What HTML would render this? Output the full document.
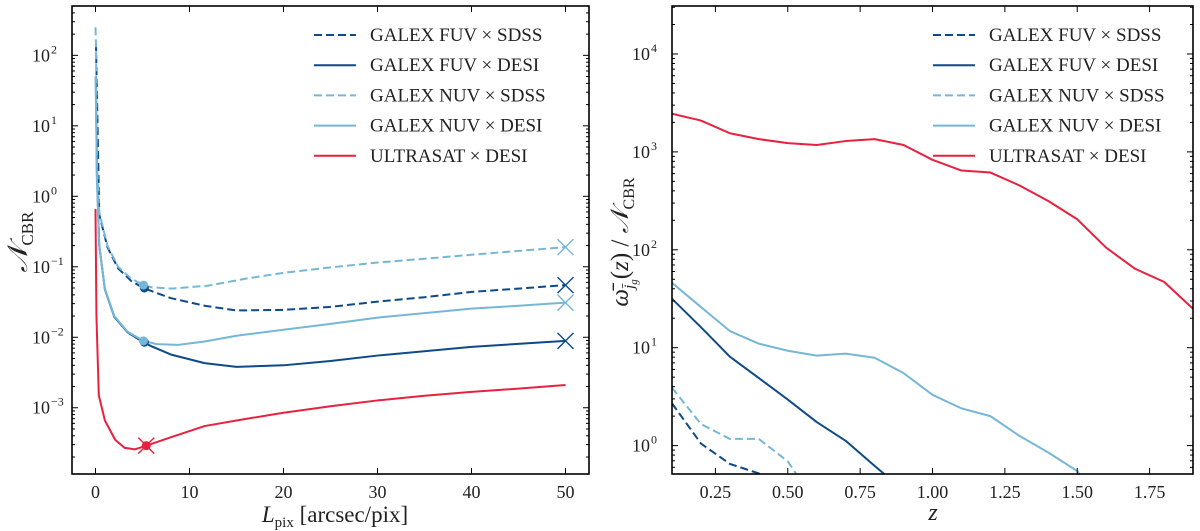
<!DOCTYPE html>
<html><head><meta charset="utf-8"><style>
body{margin:0;background:#fff;}
svg{display:block;font-family:"Liberation Serif","DejaVu Serif",serif;}
</style></head><body>
<svg id="fig" width="1200" height="531" viewBox="0 0 1200 531" xmlns="http://www.w3.org/2000/svg">
<g id="left"></g>
<g id="right"></g>
</svg>
<script>
// ---- Left panel data (L_pix vs N_CBR) ----
const leftFuvSdssX = [0.05,0.4,1.27,2.4,3.8,5.1,6,8,11.6,15,20,25,30,35,40,45,50];
const leftFuvSdssY = [150,0.55,0.19,0.095,0.063,0.05,0.045,0.036,0.028,0.024,0.0245,0.027,0.032,0.037,0.044,0.049,0.055];
const leftFuvDesiX = [0.05,0.15,0.4,1,2,3.4,5.1,6,8,11.6,15,20,25,30,40,50];
const leftFuvDesiY = [40,2,0.2,0.048,0.0195,0.0118,0.0085,0.0074,0.0057,0.0043,0.0038,0.004,0.0046,0.0055,0.0073,0.0089];
const leftNuvSdssX = [0,0.05,0.15,0.4,1.27,2.4,3.8,5.1,6,8.1,12,16,20,25,30,35,40,45,50];
const leftNuvSdssY = [250,150,3,0.59,0.20,0.10,0.068,0.055,0.051,0.049,0.054,0.068,0.082,0.098,0.115,0.13,0.148,0.168,0.19];
const leftNuvDesiX = [0,0.05,0.15,0.4,1,2,3.4,5.1,6.5,8.8,11.6,15,20,25,30,35,40,45,50];
const leftNuvDesiY = [50,20,1.7,0.2,0.049,0.020,0.012,0.0089,0.008,0.0078,0.0087,0.0105,0.0128,0.0155,0.019,0.022,0.0255,0.028,0.031];
const leftUltraX = [0,0.1,0.35,1.0,2.1,3.1,4.2,5.4,8,11.6,15,20,25,30,35,40,45,50];
const leftUltraY = [0.66,0.02,0.0015,0.00066,0.00035,0.00027,0.000257,0.00029,0.00038,0.00055,0.00066,0.00085,0.00105,0.00127,0.00148,0.00168,0.00187,0.0021];
const leftXTicks = [0,10,20,30,40,50];
const leftYTicks = [-3,-2,-1,0,1,2];

// ---- Right panel data (z vs omega/N) ----
const zVals = [0.1,0.2,0.3,0.4,0.5,0.6,0.7,0.8,0.9,1.0,1.1,1.2,1.3,1.4,1.5,1.6,1.7,1.8,1.9];
const rUltra = [2450,2090,1550,1350,1230,1175,1290,1350,1175,830,645,615,455,315,205,105,64,47,25];
const rNuvDesi = [46,26,14.8,11,9.3,8.3,8.7,7.9,5.5,3.3,2.4,2.0,1.26,0.85,0.55,0.2];
const rFuvDesi = [31.6,16.2,8.1,4.9,2.95,1.74,1.12,0.62,0.35];
const rNuvSdss = [3.9,1.66,1.17,1.17,0.69,0.25];
const rFuvSdss = [2.7,1.05,0.65,0.52,0.35];
const rightXTicks = [0.25,0.5,0.75,1.0,1.25,1.5,1.75];
const rightXTickLabels = ["0.25","0.50","0.75","1.00","1.25","1.50","1.75"];
const rightYTicks = [0,1,2,3,4];

const DARK = "#0d4a8a", LIGHT = "#76b7d8", RED = "#e8213f";
const NS = "http://www.w3.org/2000/svg";
function mk(tag, attrs, parent){const e=document.createElementNS(NS,tag);for(const k in attrs)e.setAttribute(k,attrs[k]);if(parent)parent.appendChild(e);return e;}

function makeAxes(box, xlim, ylog){
  const sx = v => box.x0 + (v - xlim[0])/(xlim[1]-xlim[0])*(box.x1-box.x0);
  const sy = v => box.y1 - (Math.log10(v) - ylog[0])/(ylog[1]-ylog[0])*(box.y1-box.y0);
  const syl = l => box.y1 - (l - ylog[0])/(ylog[1]-ylog[0])*(box.y1-box.y0);
  return {sx, sy, syl};
}

function drawPanel(gid, box, xlim, ylog, xTicks, xLabels, yTicks, prefix){
  const g = document.getElementById(gid);
  const ax = makeAxes(box, xlim, ylog);
  const defs = mk('defs', {}, g);
  const cp = mk('clipPath', {id: prefix+'clip'}, defs);
  mk('rect', {x: box.x0, y: box.y0, width: box.x1-box.x0, height: box.y1-box.y0}, cp);
  const plot = mk('g', {'clip-path': 'url(#'+prefix+'clip)'}, g);
  
  
  const tg = mk('g', {stroke: '#000', 'stroke-width': 1}, g);
  
  
  xTicks.forEach((t, i) => {
    const x = ax.sx(t);
    mk('line', {x1: x, x2: x, y1: box.y1, y2: box.y1-6}, tg);
    mk('line', {x1: x, x2: x, y1: box.y0, y2: box.y0+6}, tg);
    const tx = mk('text', {x: x, y: box.y1+24, 'text-anchor': 'middle', 'font-size': 18, fill: '#222', stroke: 'none'}, g);
    tx.textContent = xLabels[i];
    
    
  });
  for (let d = Math.floor(ylog[0]); d <= Math.ceil(ylog[1]); d++) {
    for (let m = 1; m <= 9; m++) {
      const l = d + Math.log10(m);
      if (l < ylog[0] || l > ylog[1]) continue;
      const y = ax.syl(l);
      const len = m === 1 ? 6 : 3;
      mk('line', {x1: box.x0, x2: box.x0+len, y1: y, y2: y}, tg);
      mk('line', {x1: box.x1, x2: box.x1-len, y1: y, y2: y}, tg);
    }
  }
  yTicks.forEach(t => {
    const y = ax.syl(t);
    const tx = mk('text', {x: box.x0-22, y: y+6, 'text-anchor': 'end', 'font-size': 18, fill: '#222'}, g);
    tx.textContent = '10';
    
    
    const sup = mk('text', {x: box.x0-21, y: y-2, 'text-anchor': 'start', 'font-size': 12, fill: '#222'}, g);
    sup.textContent = t < 0 ? '\u2212' + (-t) : String(t);
    
    
  });
  const frame = mk('rect', {x: box.x0, y: box.y0, width: box.x1-box.x0, height: box.y1-box.y0, fill: 'none', stroke: '#000', 'stroke-width': 1.6}, g);
  
  
  return {ax, plot, g};
}

function line(plot, ax, xs, ys, color, dashed, name){
  const d = xs.map((x, i) => (i ? 'L' : 'M') + ax.sx(x).toFixed(2) + ' ' + ax.sy(ys[i]).toFixed(2)).join(' ');
  const p = mk('path', {d: d, fill: 'none', stroke: color, 'stroke-width': 2, 'stroke-dasharray': dashed ? '8,4' : 'none', 'stroke-linejoin': 'round'}, plot);
  
  
}

function legend(g, x, y0, items){
  const lg = mk('g', {}, g);
  
  
  items.forEach((it, i) => {
    const y = y0 + i*30.2;
    const e = mk('g', {}, lg);
    
    
    mk('line', {x1: x, x2: x+42, y1: y, y2: y, stroke: it[1], 'stroke-width': 2, 'stroke-dasharray': it[2] ? '8,4' : 'none'}, e);
    const t = mk('text', {x: x+56, y: y+6, 'font-size': 19, fill: '#222'}, e);
    t.textContent = it[0];
  });
}
const legItems = [["GALEX FUV \u00d7 SDSS", DARK, true],["GALEX FUV \u00d7 DESI", DARK, false],["GALEX NUV \u00d7 SDSS", LIGHT, true],["GALEX NUV \u00d7 DESI", LIGHT, false],["ULTRASAT \u00d7 DESI", RED, false]];

// LEFT
const L = drawPanel('left', {x0: 72, x1: 589, y0: 6, y1: 474}, [-2.5, 52.5], [-3.94, 2.70], leftXTicks, leftXTicks.map(String), leftYTicks, 'left-');
line(L.plot, L.ax, leftFuvSdssX, leftFuvSdssY, DARK, true, 'line-fuv-sdss');
line(L.plot, L.ax, leftFuvDesiX, leftFuvDesiY, DARK, false, 'line-fuv-desi');
line(L.plot, L.ax, leftNuvSdssX, leftNuvSdssY, LIGHT, true, 'line-nuv-sdss');
line(L.plot, L.ax, leftNuvDesiX, leftNuvDesiY, LIGHT, false, 'line-nuv-desi');
line(L.plot, L.ax, leftUltraX, leftUltraY, RED, false, 'line-ultrasat-desi');
function dot(xv, yv, c, name){const c1 = mk('circle', {cx: L.ax.sx(xv), cy: L.ax.sy(yv), r: 4.5, fill: c}, L.plot);  }
function cross(xv, yv, c, name, plus){const x = L.ax.sx(xv), y = L.ax.sy(yv), s = 8; let d = `M${x-s} ${y-s}L${x+s} ${y+s}M${x-s} ${y+s}L${x+s} ${y-s}`; const p = mk('path', {d: d, stroke: c, 'stroke-width': 1.4, fill: 'none'}, L.g);  }
dot(5.2, leftFuvSdssY[5], DARK, 'marker-fuv-sdss-min');
dot(5.1, leftNuvSdssY[7], LIGHT, 'marker-nuv-sdss-min');
dot(5.2, leftFuvDesiY[6], DARK, 'marker-fuv-desi-min');
dot(5.1, leftNuvDesiY[7], LIGHT, 'marker-nuv-desi-min');
cross(50, leftNuvSdssY[leftNuvSdssY.length-1], LIGHT, 'cross-nuv-sdss');
cross(50, leftFuvSdssY[leftFuvSdssY.length-1], DARK, 'cross-fuv-sdss');
cross(50, leftNuvDesiY[leftNuvDesiY.length-1], LIGHT, 'cross-nuv-desi');
cross(50, leftFuvDesiY[leftFuvDesiY.length-1], DARK, 'cross-fuv-desi');
cross(5.4, leftUltraY[7], RED, 'cross-ultrasat');
dot(5.4, leftUltraY[7], RED, 'marker-ultrasat-min');
legend(L.g, 314, 35, legItems);
const ylab = mk('text', {x: 0, y: 0, 'font-size': 28, 'font-style': 'italic', fill: '#222', transform: 'translate(27,242) rotate(-90)', 'text-anchor': 'middle'}, L.g);
ylab.innerHTML = '\ud835\udca9<tspan font-size="17" font-style="normal" dy="6">CBR</tspan>';


const xlab = mk('text', {x: 335, y: 522, 'font-size': 23, fill: '#222', 'text-anchor': 'middle'}, L.g);
xlab.innerHTML = '<tspan font-style="italic">L</tspan><tspan font-size="15" dy="5">pix</tspan><tspan dy="-5"> [arcsec/pix]</tspan>';



// RIGHT
const R = drawPanel('right', {x0: 672, x1: 1193, y0: 6, y1: 474}, [0.1, 1.9], [-0.29, 4.49], rightXTicks, rightXTickLabels, rightYTicks, 'right-');
line(R.plot, R.ax, zVals.slice(0, rFuvSdss.length), rFuvSdss, DARK, true, 'line-fuv-sdss-z');
line(R.plot, R.ax, zVals.slice(0, rFuvDesi.length), rFuvDesi, DARK, false, 'line-fuv-desi-z');
line(R.plot, R.ax, zVals.slice(0, rNuvSdss.length), rNuvSdss, LIGHT, true, 'line-nuv-sdss-z');
line(R.plot, R.ax, zVals.slice(0, rNuvDesi.length), rNuvDesi, LIGHT, false, 'line-nuv-desi-z');
line(R.plot, R.ax, zVals, rUltra, RED, false, 'line-ultrasat-desi-z');
legend(R.g, 933, 35, legItems);
const rylab = mk('text', {x: 0, y: 0, 'font-size': 25, 'font-style': 'italic', fill: '#222', transform: 'translate(628,242) rotate(-90)', 'text-anchor': 'middle'}, R.g);
rylab.innerHTML = 'ω\u0304<tspan font-size="15" dy="6">j\u0304</tspan><tspan font-size="11" dy="3">g</tspan><tspan dy="-9" font-style="normal">(</tspan>z<tspan font-style="normal">) / </tspan>\ud835\udca9<tspan font-size="16" font-style="normal" dy="6">CBR</tspan>';


const rxlab = mk('text', {x: 933, y: 520, 'font-size': 24, 'font-style': 'italic', fill: '#222', 'text-anchor': 'middle'}, R.g);
rxlab.textContent = 'z';


</script>
</body></html>
